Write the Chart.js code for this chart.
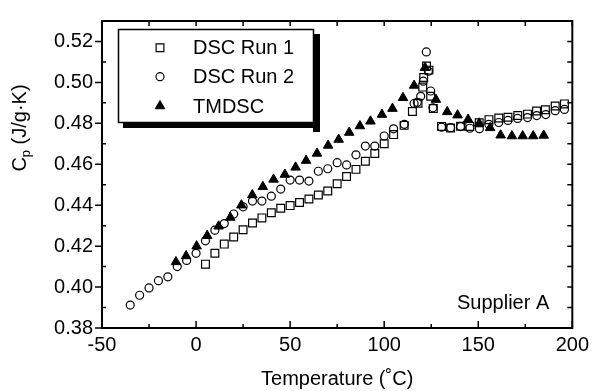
<!DOCTYPE html>
<html>
<head>
<meta charset="utf-8">
<script src="https://cdn.jsdelivr.net/npm/chart.js@4.4.1/dist/chart.umd.min.js"></script>
<style>
html, body { margin: 0; padding: 0; background: #fff; }
canvas { display: block; }
</style>
</head>
<body>
<canvas id="myChart" width="594" height="391"></canvas>
<script>
// DSC Run 1 (open squares)
const run1Temp = [5, 10, 15, 20, 25, 30, 35, 40, 45, 50, 55, 60, 65, 70, 75, 80, 85, 90, 95, 100,
  105, 110.6, 115, 118, 120.5, 121, 122.5, 123.8, 124.7, 126.1, 130.5, 135.3, 140.6, 145.5,
  150.5, 155.7, 160.9, 165.8, 171, 176.2, 181, 185.7, 190.9, 195.8];
const run1Cp = [0.4112, 0.4165, 0.421, 0.4245, 0.428, 0.4313, 0.4338, 0.4363, 0.4385, 0.4398,
  0.4413, 0.443, 0.445, 0.4469, 0.4505, 0.454, 0.4575, 0.4615, 0.4653, 0.470,
  0.4745, 0.4790, 0.4858, 0.4898, 0.4977, 0.5024, 0.508, 0.506, 0.4932, 0.4872, 0.4785, 0.4777, 0.4786, 0.4785,
  0.4803, 0.4818, 0.4826, 0.483, 0.4838, 0.4845, 0.486, 0.4866, 0.4885, 0.4895];

// DSC Run 2 (open circles)
const run2Temp = [-35, -30, -25, -20, -15, -10, -5, 0, 5, 10, 15, 20, 25, 30, 35, 40, 45, 50, 55, 60,
  65, 70, 75, 80, 85, 90, 95, 100, 105, 110.7, 115.9, 117.6, 119.4, 120.8, 122.4, 123.5, 124.7, 125.9,
  130.5, 135.3, 140.6, 145.5, 150.6, 155.6, 160.9, 165.8, 170.9, 176.2, 181.1, 185.9, 190.9, 195.8];
const run2Cp = [0.3912, 0.396, 0.3996, 0.4031, 0.405, 0.410, 0.413, 0.4165, 0.4226, 0.4278, 0.431, 0.4357,
  0.4392, 0.442, 0.442, 0.4444, 0.4479, 0.4523, 0.4523, 0.4518, 0.4566, 0.4578, 0.4608, 0.4597, 0.4646,
  0.4689, 0.4689, 0.4738, 0.4773, 0.4795, 0.4897, 0.4903, 0.4932, 0.5006, 0.5149, 0.5055, 0.4958, 0.4876,
  0.4781, 0.4779, 0.4784, 0.4776, 0.4774, 0.4795, 0.4804, 0.4814, 0.4824, 0.4828, 0.4838, 0.4843, 0.4862, 0.4868];

// TMDSC (filled triangles)
const tmdscTemp = [-10.7, -5.3, 0.3, 5.9, 12, 18.2, 24.1, 29.9, 35.5, 41.2, 47.2, 52.9, 58.5, 64.3, 70.2,
  75.8, 81.4, 87.1, 92.7, 98.8, 104.4, 110, 115.9, 121.7, 127.5, 133.5, 139, 144.6, 150.5, 156.3,
  161.9, 167.9, 173.6, 179.2, 184.8];
const tmdscCp = [0.4123, 0.4152, 0.42, 0.4251, 0.4297, 0.434, 0.44, 0.445, 0.449, 0.4526, 0.455, 0.4585,
  0.4618, 0.4653, 0.4692, 0.4721, 0.4755, 0.4787, 0.481, 0.4843, 0.4872, 0.4925, 0.4985, 0.5072, 0.4916,
  0.4856, 0.484, 0.4819, 0.48, 0.4778, 0.4742, 0.4738, 0.4738, 0.4738, 0.4741];

const seriesNames = ["DSC Run 1", "DSC Run 2", "TMDSC"];
const xTitle = "Temperature (˚C)";
const noteText = "Supplier A";

const FONT = '"Liberation Sans", Arial, Helvetica, sans-serif';

function toPoints(xs, ys) {
  return xs.map((x, i) => ({ x: x, y: ys[i] }));
}

// frame, tick marks, legend box, y title and note
const extras = {
  id: 'extras',
  afterDraw(chart) {
    const ctx = chart.ctx;
    const a = chart.chartArea;
    const xs = chart.scales.x;
    const ys = chart.scales.y;
    ctx.save();
    ctx.strokeStyle = '#000';
    ctx.lineWidth = 2;
    ctx.strokeRect(a.left, a.top, a.right - a.left, a.bottom - a.top);

    ctx.lineWidth = 1.5;
    ctx.beginPath();
    xs.ticks.forEach(t => {
      const px = xs.getPixelForValue(t.value);
      const len = t.value % 50 === 0 ? 7 : 4;
      ctx.moveTo(px, a.bottom); ctx.lineTo(px, a.bottom - len);
      ctx.moveTo(px, a.top); ctx.lineTo(px, a.top + 5);
    });
    ys.ticks.forEach(t => {
      const py = ys.getPixelForValue(t.value);
      const major = Math.round(t.value * 100) % 2 === 0;
      if (major) { ctx.moveTo(a.left, py); ctx.lineTo(a.left - 7, py); }
      else { ctx.moveTo(a.left, py); ctx.lineTo(a.left + 4, py); }
      ctx.moveTo(a.right, py); ctx.lineTo(a.right - 5, py);
    });
    ctx.stroke();

    // legend with drop shadow
    const lx = 118, ly = 29, lw = 195, lh = 93;
    ctx.fillStyle = '#000';
    ctx.fillRect(lx + lw, ly + 5, 7, lh + 5);
    ctx.fillRect(lx + 5, ly + lh, lw + 2, 6);
    ctx.fillStyle = '#fff';
    ctx.fillRect(lx, ly, lw, lh);
    ctx.lineWidth = 1.5;
    ctx.strokeRect(lx + 0.5, ly + 0.5, lw, lh);

    const rows = [47.7, 76.7, 106];
    chart.data.datasets.forEach((ds, i) => {
      const opts = {
        pointStyle: ds.pointStyle, radius: ds.pointRadius, rotation: 0,
        borderWidth: ds.borderWidth
      };
      ctx.strokeStyle = ds.borderColor;
      ctx.fillStyle = ds.backgroundColor;
      ctx.lineWidth = ds.borderWidth;
      Chart.helpers.drawPoint(ctx, opts, 160, rows[i]);
      ctx.fillStyle = '#000';
      ctx.font = '20px ' + FONT;
      ctx.textAlign = 'left';
      ctx.textBaseline = 'middle';
      ctx.fillText(ds.label, 193, rows[i] + 1);
    });

    // note
    ctx.fillStyle = '#000';
    ctx.font = '20px ' + FONT;
    ctx.textAlign = 'left';
    ctx.textBaseline = 'middle';
    ctx.fillText(noteText, 457, 303);

    // y title with subscript
    ctx.translate(20, 128);
    ctx.rotate(-Math.PI / 2);
    ctx.font = '20px ' + FONT;
    const wC = ctx.measureText('C').width;
    ctx.font = '13px ' + FONT;
    const wP = ctx.measureText('p').width;
    ctx.font = '20px ' + FONT;
    const rest = ' (J/g·K)';
    const wR = ctx.measureText(rest).width;
    let sx = -(wC + wP + wR) / 2;
    ctx.textAlign = 'left';
    ctx.fillText('C', sx, 0);
    ctx.font = '13px ' + FONT;
    ctx.fillText('p', sx + wC, 6);
    ctx.font = '20px ' + FONT;
    ctx.fillText(rest, sx + wC + wP, 0);
    ctx.restore();
  }
};

const ctx = document.getElementById("myChart");

new Chart(ctx, {
  type: "scatter",
  data: {
    datasets: [
      {
        label: seriesNames[0],
        data: toPoints(run1Temp, run1Cp),
        pointStyle: "rect",
        pointRadius: 5.5,
        borderWidth: 1.2,
        borderColor: "#000",
        backgroundColor: "rgba(0,0,0,0)",
      },
      {
        label: seriesNames[1],
        data: toPoints(run2Temp, run2Cp),
        pointStyle: "circle",
        pointRadius: 4,
        borderWidth: 1.2,
        borderColor: "#000",
        backgroundColor: "rgba(0,0,0,0)",
      },
      {
        label: seriesNames[2],
        data: toPoints(tmdscTemp, tmdscCp),
        pointStyle: "triangle",
        pointRadius: 5.5,
        borderWidth: 1,
        borderColor: "#000",
        backgroundColor: "#000",
      },
    ],
  },
  options: {
    responsive: false,
    animation: false,
    devicePixelRatio: 1,
    layout: { padding: { top: 13, right: 20, left: 0, bottom: 0 } },
    plugins: {
      legend: { display: false },
      tooltip: { enabled: false },
    },
    scales: {
      x: {
        type: "linear",
        min: -50,
        max: 200,
        grid: { display: false, drawTicks: false },
        border: { display: false },
        ticks: {
          stepSize: 25,
          autoSkip: false,
          maxRotation: 0,
          padding: 5,
          color: "#000",
          font: { family: FONT, size: 20 },
          callback: (v) => (v % 50 === 0 ? String(v) : ""),
        },
        title: {
          display: true,
          text: xTitle,
          color: "#000",
          font: { family: FONT, size: 20 },
          padding: { top: 0, bottom: 0 },
        },
        afterFit: (s) => { s.height = 63; },
      },
      y: {
        type: "linear",
        min: 0.38,
        max: 0.53,
        grid: { display: false, drawTicks: false },
        border: { display: false },
        ticks: {
          stepSize: 0.01,
          autoSkip: false,
          padding: 9,
          color: "#000",
          font: { family: FONT, size: 20 },
          callback: (v) => (Math.round(v * 100) % 2 === 0 ? v.toFixed(2) : ""),
        },
        afterFit: (s) => { s.width = 102; },
      },
    },
  },
  plugins: [extras],
});
</script>
</body>
</html>
